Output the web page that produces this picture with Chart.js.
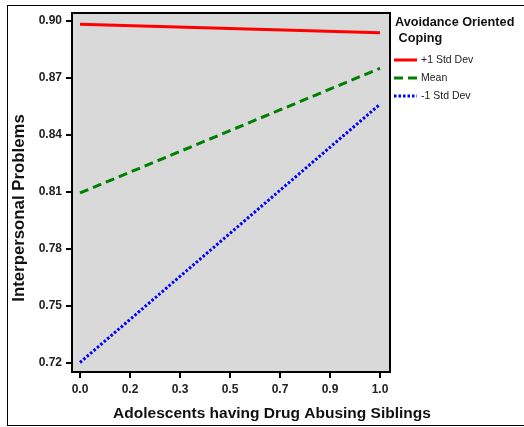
<!DOCTYPE html>
<html>
<head>
<meta charset="utf-8">
<script src="https://cdn.jsdelivr.net/npm/chart.js@4/dist/chart.umd.min.js"></script>
<style>
  html, body { margin: 0; padding: 0; background: #fff; }
  #wrap { width: 524px; height: 427px; position: relative; }
</style>
</head>
<body>
<div id="wrap"><canvas id="c" width="524" height="427"></canvas></div>
<script>
// Predictor levels (x) and predicted interpersonal problems for each moderator level
const xPoints = [0, 1];
const plusOneSD = [0.8983, 0.8938];
const meanLevel = [0.8095, 0.8751];
const minusOneSD = [0.7203, 0.8562];

const xTickValues = [0, 1/6, 2/6, 3/6, 4/6, 5/6, 1];
const xTickLabels = ['0.0', '0.2', '0.3', '0.5', '0.7', '0.9', '1.0'];
const yTickValues = [0.72, 0.75, 0.78, 0.81, 0.84, 0.87, 0.90];

const seriesNames = ['+1 Std Dev', 'Mean', '-1 Std Dev'];
const legendTitle = ['Avoidance Oriented', ' Coping'];
const yTitle = 'Interpersonal Problems';
const xTitle = 'Adolescents having Drug Abusing Siblings';

const FONT = '"Liberation Sans", Arial, sans-serif';

function pts(vals) { return xPoints.map((x, i) => ({ x: x, y: vals[i] })); }

// Frame around the whole figure, grey plot background and axis titles
const framePlugin = {
  id: 'frame',
  beforeDraw(chart) {
    const { ctx, chartArea: a } = chart;
    ctx.save();
    ctx.fillStyle = '#fff';
    ctx.fillRect(0, 0, chart.width, chart.height);
    ctx.strokeStyle = '#000';
    ctx.lineWidth = 1;
    ctx.strokeRect(7.5, 5.5, 517, 420);
    ctx.fillStyle = '#d9d9d9';
    ctx.fillRect(a.left, a.top, a.right - a.left, a.bottom - a.top);
    ctx.restore();
  },
  afterDraw(chart) {
    const { ctx, chartArea: a } = chart;
    ctx.save();
    ctx.strokeStyle = '#000';
    ctx.lineWidth = 2;
    ctx.strokeRect(a.left, a.top, a.right - a.left, a.bottom - a.top);

    ctx.fillStyle = '#111';
    ctx.textAlign = 'center';
    ctx.textBaseline = 'middle';
    ctx.font = 'bold 15.5px ' + FONT;
    ctx.fillText(xTitle, 272, 414);

    ctx.translate(19, 208);
    ctx.rotate(-Math.PI / 2);
    ctx.font = 'bold 16.8px ' + FONT;
    ctx.fillText(yTitle, 0, 0);
    ctx.restore();
  }
};

// Legend drawn to the right of the plot
const legendPlugin = {
  id: 'sideLegend',
  afterDraw(chart) {
    const { ctx } = chart;
    ctx.save();
    ctx.fillStyle = '#111';
    ctx.textBaseline = 'middle';
    ctx.textAlign = 'left';
    ctx.font = 'bold 12.7px ' + FONT;
    ctx.fillText(legendTitle[0], 395, 22);
    ctx.fillText(legendTitle[1], 395, 38);
    const rows = [60, 78, 96];
    chart.data.datasets.forEach((ds, i) => {
      const y = rows[i];
      ctx.strokeStyle = ds.borderColor;
      ctx.lineWidth = 3;
      ctx.setLineDash(ds.borderDash || []);
      ctx.beginPath();
      ctx.moveTo(394, y);
      ctx.lineTo(417, y);
      ctx.stroke();
      ctx.setLineDash([]);
      ctx.font = '10.5px ' + FONT;
      ctx.fillStyle = '#222';
      ctx.fillText(ds.label, 421, y + 0.5);
    });
    ctx.restore();
  }
};

new Chart(document.getElementById('c'), {
  type: 'line',
  data: {
    datasets: [
      { label: seriesNames[0], data: pts(plusOneSD), borderColor: '#ff0000', borderWidth: 3, pointRadius: 0, fill: false },
      { label: seriesNames[1], data: pts(meanLevel), borderColor: '#008000', borderWidth: 3, borderDash: [9, 5], pointRadius: 0, fill: false },
      { label: seriesNames[2], data: pts(minusOneSD), borderColor: '#0000ff', borderWidth: 3, borderDash: [2.5, 2], pointRadius: 0, fill: false }
    ]
  },
  options: {
    responsive: false,
    animation: false,
    devicePixelRatio: 1,
    layout: { padding: { left: 0, right: 134, top: 13, bottom: 0 } },
    plugins: { legend: { display: false }, tooltip: { enabled: false } },
    scales: {
      x: {
        type: 'linear',
        min: -0.0267,
        max: 1.0333,
        afterBuildTicks(s) { s.ticks = xTickValues.map(v => ({ value: v })); },
        afterFit(s) { s.height = 55; },
        grid: { display: true, drawOnChartArea: false, drawTicks: true, tickLength: 6, color: '#000', lineWidth: 2 },
        border: { display: false },
        ticks: {
          autoSkip: false,
          maxRotation: 0,
          padding: 4,
          color: '#222',
          font: { family: FONT, size: 12, weight: 'bold' },
          callback: (v, i) => xTickLabels[i]
        },
        title: { display: false }
      },
      y: {
        type: 'linear',
        min: 0.7153,
        max: 0.9042,
        afterBuildTicks(s) { s.ticks = yTickValues.map(v => ({ value: v })); },
        afterFit(s) { s.width = 72; },
        grid: { display: true, drawOnChartArea: false, drawTicks: true, tickLength: 6, color: '#000', lineWidth: 2 },
        border: { display: false },
        ticks: {
          autoSkip: false,
          padding: 4,
          color: '#222',
          font: { family: FONT, size: 12, weight: 'bold' },
          callback: v => v.toFixed(2)
        },
        title: { display: false }
      }
    }
  },
  plugins: [framePlugin, legendPlugin]
});
</script>
</body>
</html>
